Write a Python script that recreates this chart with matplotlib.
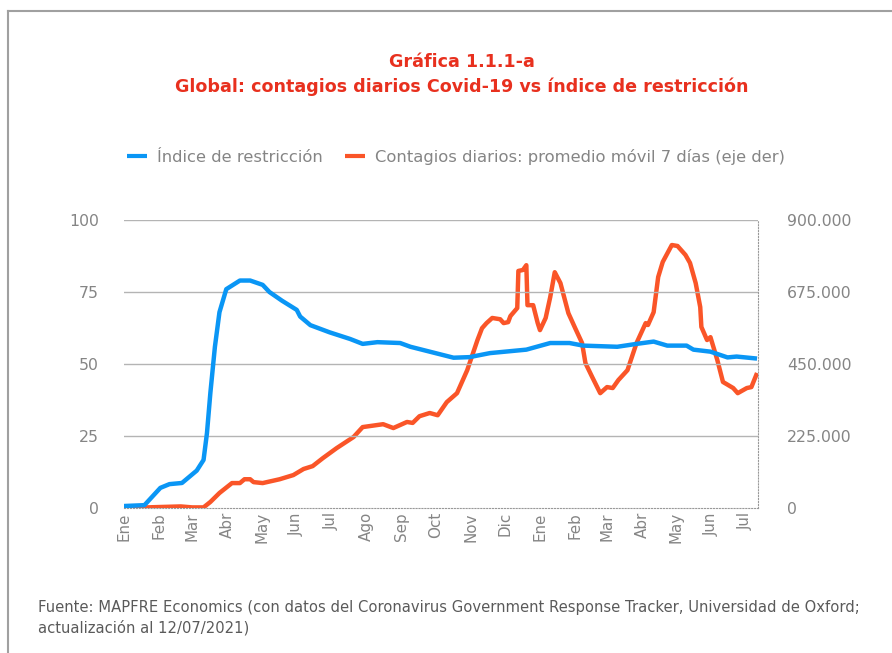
import numpy as np
import matplotlib.pyplot as plt
from matplotlib import font_manager
from matplotlib.lines import Line2D

# day index counted from 1 Jan 2020
restr_days = [0, 18, 32, 40, 51, 64, 70, 73, 76, 80, 84, 90, 102, 111, 122, 128, 139,
              152, 155, 164, 181, 199, 210, 223, 243, 252, 272, 290, 304, 322, 354,
              375, 392, 404, 434, 451, 466, 478, 495, 501, 516, 531, 539, 557]
restr_vals = [0.7, 1.0, 7.0, 8.3, 8.7, 13.0, 16.7, 26.0, 40.0, 56.0, 68.0, 76.0, 79.0,
              79.0, 77.5, 75.0, 72.0, 68.8, 66.5, 63.5, 61.0, 58.7, 57.0, 57.6, 57.3,
              56.0, 54.0, 52.2, 52.4, 53.8, 55.0, 57.3, 57.3, 56.4, 56.0, 57.0, 57.8,
              56.4, 56.4, 55.0, 54.3, 52.3, 52.6, 51.9]

cases_days = [0, 30, 50, 60, 70, 76, 84, 95, 102, 106, 111, 114, 122, 137, 149, 158,
              166, 175, 187, 202, 210, 228, 237, 249, 254, 260, 269, 276, 284, 293,
              302, 311, 315, 319, 324, 331, 334, 338, 340, 346, 347, 351, 354, 355,
              360, 364, 366, 371, 375, 379, 384, 391, 397, 403, 406, 412, 419, 425,
              430, 435, 443, 451, 459, 461, 466, 470, 474, 482, 487, 494, 498, 503,
              507, 508, 513, 516, 522, 527, 536, 540, 548, 552, 557]
cases_vals = [0, 3000, 5000, 2000, 2000, 19000, 47000, 78000, 78000, 90000, 90000,
              81000, 78000, 90000, 103000, 122000, 131000, 156000, 187000, 222000,
              253000, 262000, 250000, 269000, 266000, 287000, 297000, 290000, 331000,
              359000, 431000, 525000, 562000, 578000, 594000, 590000, 578000, 581000,
              600000, 625000, 741000, 744000, 759000, 634000, 634000, 578000, 556000,
              594000, 659000, 737000, 703000, 609000, 562000, 516000, 453000, 409000,
              359000, 378000, 375000, 400000, 431000, 516000, 578000, 572000, 612000,
              722000, 769000, 822000, 819000, 791000, 766000, 703000, 628000, 566000,
              525000, 534000, 463000, 394000, 375000, 359000, 375000, 378000, 422000]

month_starts = [0, 31, 60, 91, 121, 152, 182, 213, 244, 274, 305, 335,
                366, 397, 425, 456, 486, 517, 547]
month_labels = ['Ene', 'Feb', 'Mar', 'Abr', 'May', 'Jun', 'Jul', 'Ago', 'Sep', 'Oct',
                'Nov', 'Dic', 'Ene', 'Feb', 'Mar', 'Abr', 'May', 'Jun', 'Jul']

installed = {f.name for f in font_manager.fontManager.ttflist}
narrow = [n for n in ['Liberation Sans Narrow', 'DejaVu Sans Condensed'] if n in installed]
plt.rcParams['font.family'] = narrow + ['DejaVu Sans']
k = 1.0 if narrow else 0.84   # shrink plain DejaVu to the condensed widths

gray = '#858585'
blue = '#0a96f5'
orange = '#fa5528'
red = '#e8301e'

fig = plt.figure(figsize=(8.92, 6.53), dpi=100)
ax = fig.add_axes([0.139, 0.222, 0.711, 0.441])
ax2 = ax.twinx()

ax.plot(restr_days, restr_vals, color=blue, lw=3.2, solid_capstyle='butt', zorder=3)
ax2.plot(cases_days, cases_vals, color=orange, lw=3.2, solid_capstyle='butt', zorder=3)
ax.set_zorder(ax2.get_zorder() + 1)
ax.patch.set_visible(False)

ax.set_xlim(0, 558)
ax.set_ylim(0, 100)
ax2.set_ylim(0, 900000)
ax.set_yticks([0, 25, 50, 75, 100])
ax2.set_yticks([0, 225000, 450000, 675000, 900000])
ax2.set_yticklabels(['0', '225.000', '450.000', '675.000', '900.000'])
ax.set_xticks(month_starts)
ax.set_xticklabels(month_labels, rotation=90)

for y in [25, 50, 75, 100]:
    ax.axhline(y, color='#b4b4b4', lw=1, zorder=1)

for a in (ax, ax2):
    for s in a.spines.values():
        s.set_visible(False)
    a.tick_params(length=0, colors=gray, labelsize=13.5 * k)
ax.tick_params(axis='y', pad=18)
ax2.tick_params(axis='y', pad=21)
ax.tick_params(axis='x', pad=3, labelsize=13 * k)
ax2.spines['right'].set_visible(True)
ax2.spines['right'].set_linestyle(':')
ax2.spines['right'].set_color('#999999')
ax.spines['bottom'].set_visible(True)
ax.spines['bottom'].set_linestyle(':')
ax.spines['bottom'].set_color('#999999')

fig.text(0.518, 0.905, 'Gráfica 1.1.1-a', ha='center', va='center',
         color=red, fontsize=15 * k, fontweight='bold')
fig.text(0.518, 0.867, 'Global: contagios diarios Covid-19 vs índice de restricción',
         ha='center', va='center', color=red, fontsize=15 * k, fontweight='bold')

handles = [Line2D([], [], color=blue, lw=3, solid_capstyle='butt'),
           Line2D([], [], color=orange, lw=3, solid_capstyle='butt')]
leg = fig.legend(handles, ['Índice de restricción',
                           'Contagios diarios: promedio móvil 7 días (eje der)'],
                 loc='center', bbox_to_anchor=(0.511, 0.76), ncol=2, frameon=False,
                 fontsize=14 * k, handlelength=1.2, columnspacing=1.4, handletextpad=0.6)
for t in leg.get_texts():
    t.set_color(gray)

fig.text(0.043, 0.054, 'Fuente: MAPFRE Economics (con datos del Coronavirus Government '
         'Response Tracker, Universidad de Oxford;\nactualización al 12/07/2021)',
         ha='left', va='center', color='#5a5a5a', fontsize=12.7 * k, linespacing=1.45)

# frame around the figure
fig.add_artist(Line2D([0.009, 1.0], [0.983, 0.983], color='#a0a0a0', lw=1.5))
fig.add_artist(Line2D([0.009, 0.009], [0.0, 0.983], color='#a0a0a0', lw=1.5))

fig.savefig('out.png', dpi=100)
